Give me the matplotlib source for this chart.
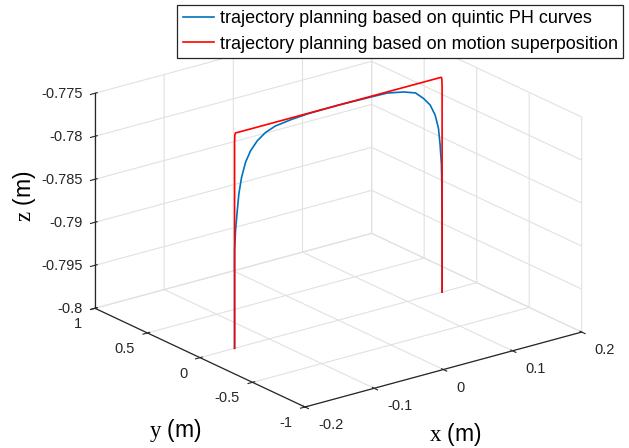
import numpy as np
import matplotlib.pyplot as plt
from mpl_toolkits.mplot3d import proj3d

plt.rcParams['font.family'] = ['Liberation Sans', 'DejaVu Sans']
plt.rcParams['mathtext.fontset'] = 'custom'
plt.rcParams['mathtext.rm'] = 'Liberation Serif'
plt.rcParams['grid.color'] = '#e1e1e1'
plt.rcParams['grid.linewidth'] = 0.8
plt.rcParams['axes.edgecolor'] = '#262626'
plt.rcParams['axes.linewidth'] = 0.9

# quintic PH curve trajectory (plane y = 0)
ph_x = [-0.15, -0.15, -0.1499, -0.1486, -0.1461, -0.1438, -0.1399, -0.1342,
        -0.127, -0.1173, -0.1054, -0.091, -0.067, -0.0431, 0.0, 0.0464,
        0.0704, 0.0943, 0.1116, 0.1231, 0.1327, 0.1399, 0.1447, 0.1471,
        0.149, 0.1496, 0.1499, 0.15, 0.15]
ph_z = [-0.8, -0.7905, -0.7885, -0.78634, -0.78408, -0.78219, -0.78035, -0.77873,
        -0.77755, -0.7766, -0.77589, -0.77544, -0.77518, -0.77504, -0.775, -0.77508,
        -0.77513, -0.77552, -0.77601, -0.7769, -0.77787, -0.77919, -0.78082, -0.78279,
        -0.7851, -0.78742, -0.78973, -0.792, -0.8]

# motion superposition trajectory
ms_x = [-0.15, -0.15, -0.1496, -0.1488, 0.1488, 0.1496, 0.15, 0.15]
ms_z = [-0.8, -0.776, -0.7752, -0.775, -0.775, -0.7752, -0.776, -0.8]
y_plane = 0.0

x_ticks = [-0.2, -0.1, 0, 0.1, 0.2]
x_labels = ['-0.2', '-0.1', '0', '0.1', '0.2']
y_ticks = [-1, -0.5, 0, 0.5, 1]
y_labels = ['-1', '-0.5', '0', '0.5', '1']
z_ticks = [-0.8, -0.795, -0.79, -0.785, -0.78, -0.775]
z_labels = ['-0.8', '-0.795', '-0.79', '-0.785', '-0.78', '-0.775']

fig = plt.figure(figsize=(6.29, 4.48), dpi=100)
ax = fig.add_axes([0, 0, 1, 1], projection='3d', computed_zorder=False)
ax.set_proj_type('ortho')
ax.view_init(elev=20.9, azim=-127.2)
ax.set_box_aspect((1, 1, 0.6626))

ax.plot(ph_x, np.full(len(ph_x), y_plane), ph_z, color='#0072BD', lw=1.2,
        label='trajectory planning based on quintic PH curves', zorder=2)
ax.plot(ms_x, np.full(len(ms_x), y_plane), ms_z, color='#FF0000', lw=1.2,
        label='trajectory planning based on motion superposition', zorder=3)

ax.set_xlim(-0.2, 0.2)
ax.set_ylim(-1, 1)
ax.set_zlim(-0.8, -0.775)
ax.set_xticks(x_ticks)
ax.set_yticks(y_ticks)
ax.set_zticks(z_ticks)
ax.tick_params(colors='#262626')
for a in (ax.xaxis, ax.yaxis, ax.zaxis):
    a.set_pane_color((1, 1, 1, 0))
    a.set_tick_params(label1On=False)

# fit the box onto the reference placement
W, H = fig.bbox.width, fig.bbox.height
fig.canvas.draw()
M = ax.get_proj()
def to_px(x, y, z):
    X, Y, _ = proj3d.proj_transform(x, y, z, M)
    return ax.transData.transform((X, Y))
a = to_px(-0.2, -1, -0.8)
b = to_px(0.2, -1, -0.8)
f = (581.7 - 305.0) / (b[0] - a[0])
bb = ax.get_position()
x0 = 305.0 - (a[0] - bb.x0 * W) * f
y0 = 41.0 - (a[1] - bb.y0 * H) * f
ax.set_position([x0 / W, y0 / H, bb.width * f, bb.height * f])
fig.canvas.draw()
M = ax.get_proj()

# tick labels placed MATLAB-style next to the projected ticks
def tick_text(x, y, z, s, dx, dy, ha):
    px, py = to_px(x, y, z)
    fig.text((px + dx) / W, (py + dy) / H, s, ha=ha, va='center', fontsize=10.5,
             color='#262626')

for v, s in zip(x_ticks, x_labels):
    tick_text(v, -1, -0.8, s, 13, -18, 'left')
for v, s in zip(y_ticks, y_labels):
    tick_text(-0.2, v, -0.8, s, -12.5, -16, 'right')
for v, s in zip(z_ticks, z_labels):
    tick_text(-0.2, 1, v, s, -12, -1, 'right')

fig.text(455 / 629, 1 - 434 / 448, r'$\mathrm{x}$ (m)', fontsize=16.5, ha='center', va='center')
fig.text(175 / 629, 1 - 430 / 448, r'$\mathrm{y}$ (m)', fontsize=16.5, ha='center', va='center')
fig.text(24 / 629, 1 - 196 / 448, r'$\mathrm{z}$ (m)', fontsize=16.5, ha='center', va='center',
         rotation=90)

leg = fig.legend(loc='upper right', bbox_to_anchor=(623 / 629, 1 - 5 / 448), fontsize=13,
                 fancybox=False, framealpha=1, edgecolor='#262626', handlelength=1.75,
                 handletextpad=0.3, borderpad=0.3, labelspacing=0.45, borderaxespad=0)
leg.get_frame().set_linewidth(0.9)

fig.savefig('out.png', dpi=100)
